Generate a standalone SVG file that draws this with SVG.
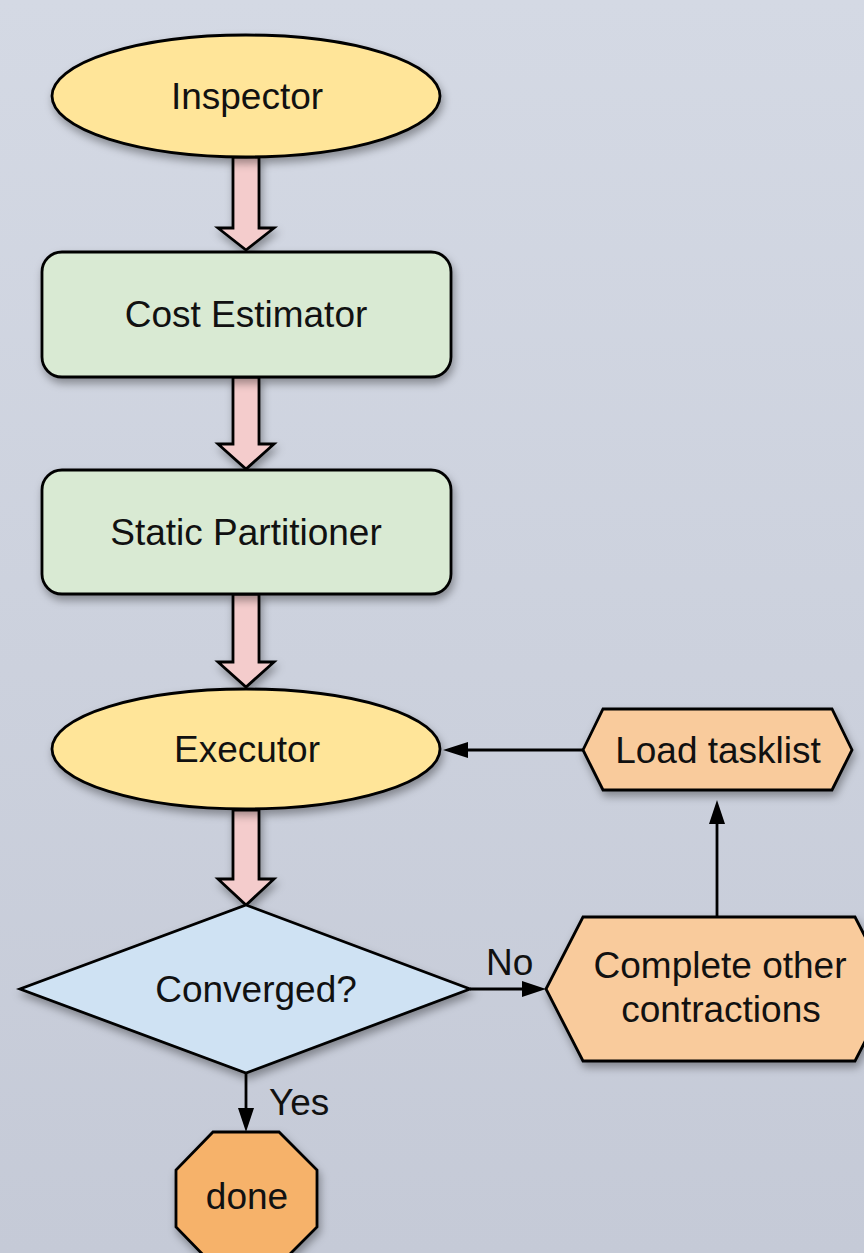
<svg xmlns="http://www.w3.org/2000/svg" width="864" height="1253" viewBox="0 0 864 1253">
  <defs>
    <linearGradient id="bg" x1="0" y1="0" x2="0" y2="1">
      <stop offset="0" stop-color="#d4d9e4"/>
      <stop offset="1" stop-color="#c5cad7"/>
    </linearGradient>
    <filter id="shadow" x="-20%" y="-20%" width="140%" height="150%">
      <feDropShadow dx="2" dy="5" stdDeviation="4" flood-color="#000" flood-opacity="0.35"/>
    </filter>
    <style>
      .node { stroke: #000; stroke-width: 2.8; filter: url(#shadow); }
      .yellow { fill: #ffe599; }
      .green { fill: #d9ead3; }
      .blue { fill: #cfe2f3; }
      .peach { fill: #f9cb9c; }
      .orange { fill: #f6b26b; }
      .pink { fill: #f4cccc; stroke: #000; stroke-width: 2.8; stroke-linejoin: miter; filter: url(#shadow); }
      .conn { stroke: #000; stroke-width: 2.8; fill: none; }
      .head { fill: #000; }
      text { font-family: "Liberation Sans", Arial, sans-serif; font-size: 37px; fill: #111; text-anchor: middle; }
      .lbl { font-size: 37px; text-anchor: start; }
    </style>
  </defs>

  <rect x="0" y="0" width="864" height="1253" fill="url(#bg)"/>

  <g id="connectors">
    <path class="pink" d="M233,157 L259,157 L259,228 L274,228 L246,250 L218,228 L233,228 Z"/>
    <path class="pink" d="M233,377 L259,377 L259,444 L274,444 L246,469 L218,444 L233,444 Z"/>
    <path class="pink" d="M233,594 L259,594 L259,662 L274,662 L246,687 L218,662 L233,662 Z"/>
    <path class="pink" d="M233,810 L259,810 L259,879 L274,879 L246,905 L218,879 L233,879 Z"/>
    <line class="conn" x1="583" y1="750" x2="460" y2="750"/>
    <path class="head" d="M443,750 L468,742 L468,758 Z"/>
    <line class="conn" x1="717" y1="917" x2="717" y2="820"/>
    <path class="head" d="M717,800 L709,824 L725,824 Z"/>
    <line class="conn" x1="470" y1="989" x2="526" y2="989"/>
    <path class="head" d="M546,989 L522,981 L522,997 Z"/>
    <line class="conn" x1="246" y1="1073" x2="246" y2="1112"/>
    <path class="head" d="M246,1132 L238,1108 L254,1108 Z"/>
    <text class="lbl" x="486" y="975">No</text>
    <text class="lbl" x="269" y="1115">Yes</text>
  </g>

  <g id="inspector">
    <ellipse class="node yellow" cx="246" cy="96" rx="194" ry="61"/>
    <text x="247" y="109">Inspector</text>
  </g>

  <g id="cost-estimator">
    <rect class="node green" x="42" y="252" width="409" height="125" rx="20" ry="20"/>
    <text x="246" y="327">Cost Estimator</text>
  </g>

  <g id="static-partitioner">
    <rect class="node green" x="42" y="470" width="409" height="124" rx="20" ry="20"/>
    <text x="246" y="545">Static Partitioner</text>
  </g>

  <g id="executor">
    <ellipse class="node yellow" cx="246" cy="749" rx="194" ry="60"/>
    <text x="247" y="762">Executor</text>
  </g>

  <g id="converged">
    <polygon class="node blue" points="246,905 470,989 246,1073 20,989"/>
    <text x="256" y="1002">Converged?</text>
  </g>

  <g id="done">
    <polygon class="node orange" points="213,1132 279,1132 317,1170 317,1227 279,1265 213,1265 176,1227 176,1170"/>
    <text x="247" y="1209">done</text>
  </g>

  <g id="load-tasklist">
    <polygon class="node peach" points="583,750 603,709 832,709 852,750 832,790 603,790"/>
    <text x="718" y="763">Load tasklist</text>
  </g>

  <g id="complete-other">
    <polygon class="node peach" points="546,989 583,917 855,917 892,989 855,1061 583,1061"/>
    <text x="720" y="978">Complete other</text>
    <text x="721" y="1022">contractions</text>
  </g>
</svg>
